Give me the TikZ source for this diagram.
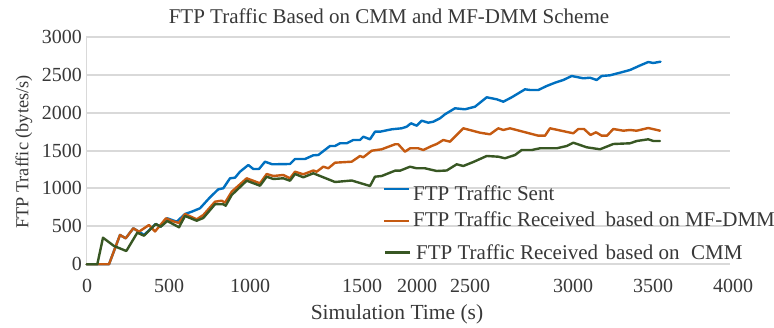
\documentclass[tikz,border=0pt]{standalone}
\usepackage{fontspec}
\setmainfont{Liberation Serif}

\definecolor{sentblue}{RGB}{0,112,192}
\definecolor{mfdmmorange}{RGB}{197,90,17}
\definecolor{cmmgreen}{RGB}{56,87,35}
\definecolor{gridgray}{RGB}{217,217,217}
\definecolor{labelgray}{RGB}{56,56,56}

\tikzset{
  curve/.style={line width=2.4pt, line join=round, line cap=round},
  ticklabel/.style={font=\fontsize{20}{20}\selectfont, text=labelgray, inner sep=0pt},
  legendtext/.style={font=\fontsize{21}{21}\selectfont, text=labelgray, anchor=west, inner sep=0pt},
}

\begin{document}
\begin{tikzpicture}[x=1pt, y=-1pt]
\useasboundingbox (0,0) rectangle (774,328);

% grid and axis line
\foreach \y in {37,75,113,151,188,226,264}
\draw [gridgray, line width=1.2pt] (86,\y) -- (730,\y);
\draw [gridgray, line width=1pt] (86,37) -- (86,264);

% y tick labels
\foreach \y/\ytext in {264/0,226/500,188/1000,151/1500,113/2000,75/2500,37/3000}
\node [ticklabel, anchor=east] (ytick\ytext) at (82,\y) {\ytext};

% x tick labels
\foreach \x/\xtext in {87/0,169/500,250/1000,362/1500,417/2000,470/2500,573/3000,653/3500,733/4000}
\node [ticklabel] (xtick\xtext) at (\x,286) {\xtext};

% FTP traffic sent
\draw [curve, sentblue] (86.7,264.3) -- (109,264.3) -- (120,235) -- (125.7,238.3)
  -- (133.3,228.3) -- (139,231.7) -- (144,235) -- (155.7,224) -- (160.7,226.7)
  -- (167.3,218.3) -- (176.7,221.7) -- (185,214) -- (191.7,211.7) -- (200,208.3)
  -- (210,197.3) -- (218.3,189.3) -- (223.3,188.3) -- (230,178.3) -- (235,177.7)
  -- (240,171.7) -- (248.3,165) -- (253.3,169) -- (259,169) -- (265,161.7)
  -- (272.3,164.3) -- (290,164) -- (295,159) -- (305,159) -- (313.3,155.3)
  -- (318.3,155) -- (330,146) -- (335,146) -- (340,143.3) -- (346.7,143.3)
  -- (353.3,140) -- (360,140) -- (363.3,136.7) -- (370,139.3) -- (375,131.7)
  -- (380,131.7) -- (391.7,129.3) -- (401.7,128.3) -- (406.7,126.7) -- (411,123.3)
  -- (416.7,125.7) -- (421.7,120.7) -- (428.3,122.7) -- (433.3,121.7) -- (440,118.3)
  -- (445,114.3) -- (455,108.3) -- (465,109.3) -- (475,106.7) -- (486.7,97.3)
  -- (496.7,99.3) -- (503.3,101.7) -- (511.7,97.3) -- (525,89.3) -- (530,90)
  -- (538.3,90) -- (546.7,86) -- (555,82.7) -- (563.3,80) -- (571.7,76)
  -- (583.3,78.3) -- (590,77.7) -- (596.7,80) -- (601.7,76) -- (610,75.3)
  -- (620,72.7) -- (630,70) -- (640,65.5) -- (648.3,62) -- (653.3,63) -- (660.5,61.7);

% FTP traffic received, MF-DMM
\draw [curve, mfdmmorange] (86.7,264.3) -- (109,264.3) -- (120,235) -- (125.7,238.3)
  -- (133.3,228.3) -- (139,231.7) -- (149,225) -- (155,231.5) -- (166,218.3)
  -- (172,221) -- (179,223) -- (185,214) -- (196.7,219.3) -- (203.3,215)
  -- (215,201.7) -- (221.7,200.7) -- (225,202.7) -- (231.7,191.7) -- (246.7,178.3)
  -- (260,183.3) -- (266.7,174) -- (273.3,176) -- (283.3,175) -- (290,178.3)
  -- (295,171.7) -- (303.3,174.3) -- (313.3,170.5) -- (316.7,171.7) -- (323.3,166.7)
  -- (328.3,168.3) -- (335,162.7) -- (351.7,161.7) -- (360,156) -- (363.3,157.3)
  -- (371.7,150.7) -- (381.7,149.3) -- (395,144.3) -- (398.3,144.3) -- (405,151.7)
  -- (410,148.3) -- (418.3,148.3) -- (423.3,150) -- (431.7,146) -- (436.7,144)
  -- (443.3,140) -- (450,141.7) -- (463.3,128.3) -- (480,132.7) -- (490,134.3)
  -- (498.3,128.3) -- (503.3,130) -- (510,128.3) -- (538.3,135.7) -- (545,135.7)
  -- (550,128.3) -- (573.3,133.3) -- (578.3,129) -- (584,129) -- (590.5,135)
  -- (596,132.3) -- (601.7,135.7) -- (607,135.7) -- (613.3,129) -- (623.3,130.7)
  -- (630,130) -- (636.7,130.7) -- (648.3,128) -- (660,130.7);

% FTP traffic received, CMM
\draw [curve, cmmgreen] (86.7,264.3) -- (97.3,264.3) -- (103,237.7) -- (114,246)
  -- (126.3,251) -- (137.3,232.7) -- (144,235.7) -- (155.7,224) -- (160.7,226.7)
  -- (167.3,221) -- (179,227.3) -- (185,216) -- (196.7,220.7) -- (203.3,218)
  -- (215,204.3) -- (223.3,204.3) -- (225.7,205.7) -- (231.7,195) -- (246.7,180.7)
  -- (260,185.7) -- (266.7,176.7) -- (273.3,179) -- (283.3,178.3) -- (290,180.7)
  -- (295,174) -- (303.3,177.3) -- (313.3,173.3) -- (335,182) -- (351.7,180.5)
  -- (370,186) -- (375,176.7) -- (381.7,176) -- (395,170.7) -- (400,170.7)
  -- (410,166.7) -- (416.7,168.3) -- (425,168.3) -- (436.7,171) -- (446.7,170.5)
  -- (456.7,164.3) -- (463.3,166) -- (473.3,162) -- (486.7,156) -- (498.3,156.7)
  -- (505,158.3) -- (515,155) -- (521.7,150) -- (531.7,150) -- (540,148.3)
  -- (556.7,148.3) -- (566.7,146) -- (573.3,142.7) -- (586.7,147.3) -- (600,149.3)
  -- (613.3,144) -- (630,143.3) -- (636.7,141) -- (648.3,139.3) -- (653.3,141) -- (660,141);

% legend
\node [legendtext] (legsent) at (413,193) {FTP Traffic Sent};
\node [legendtext] (legmfdmm) at (413,219) {FTP Traffic Received\hspace{0.25em} based on MF-DMM};
\node [legendtext] (legcmm) at (416,252) {FTP Traffic Received\hspace{0.1em} based on\hspace{0.3em} CMM};
\draw [curve, sentblue, line cap=butt] ([xshift=-4pt]legsent.west |- 0,189) -- ++(-25,0);
\draw [curve, mfdmmorange, line cap=butt] ([xshift=-4pt]legmfdmm.west |- 0,221) -- ++(-25,0);
\draw [curve, cmmgreen, line cap=butt] ([xshift=-6pt]legcmm.west |- 0,252.7) -- ++(-25,0);

% titles
\node [font=\fontsize{21}{21}\selectfont, text=labelgray] (title) at (389,16)
  {FTP Traffic Based on CMM and MF-DMM Scheme};
\node [font=\fontsize{21.5}{21.5}\selectfont, text=labelgray] (xlabel) at (397,314)
  {Simulation Time (s)};
\node [font=\fontsize{18.3}{18.3}\selectfont, text=labelgray, rotate=90] (ylabel) at (24,152)
  {FTP Traffic (bytes/s)};

\end{tikzpicture}
\end{document}
